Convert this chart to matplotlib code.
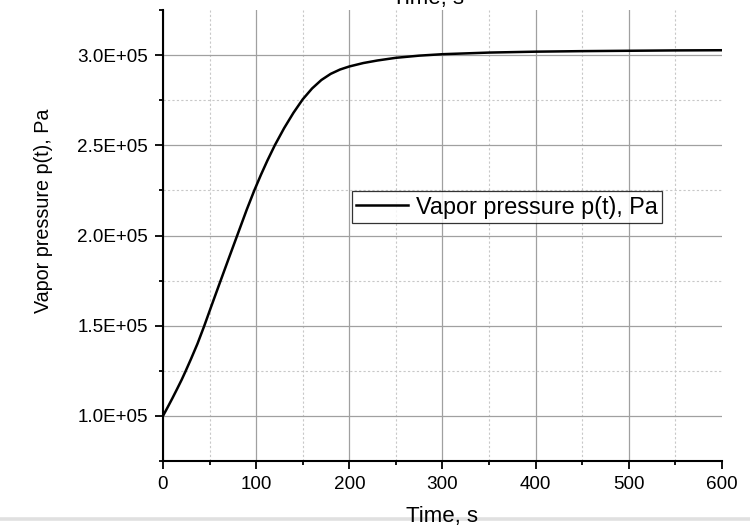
import matplotlib
matplotlib.use('Agg')
import matplotlib.pyplot as plt
from matplotlib.ticker import FixedLocator, FuncFormatter
from matplotlib.lines import Line2D

# Data
time_s = [0, 5, 10, 15, 20, 24, 30, 37, 44, 52, 61.5, 70, 80, 90, 98, 105,
          112, 120, 130, 140, 150, 160, 170, 180, 190, 200, 215, 230, 250,
          275, 300, 350, 400, 450, 500, 550, 600]
pressure_pa = [1.0e5, 1.048e5, 1.097e5, 1.148e5, 1.2e5, 1.245e5, 1.315e5,
               1.40e5, 1.495e5, 1.61e5, 1.745e5, 1.865e5, 2.005e5, 2.145e5,
               2.25e5, 2.335e5, 2.415e5, 2.5e5, 2.595e5, 2.68e5, 2.755e5,
               2.815e5, 2.862e5, 2.896e5, 2.92e5, 2.937e5, 2.956e5, 2.97e5,
               2.985e5, 2.997e5, 3.005e5, 3.014e5, 3.019e5, 3.022e5, 3.024e5,
               3.026e5, 3.027e5]
x_major = [0, 100, 200, 300, 400, 500, 600]
x_minor = [50, 150, 250, 350, 450, 550]
y_major = [1.0e5, 1.5e5, 2.0e5, 2.5e5, 3.0e5]
y_minor = [0.75e5, 1.25e5, 1.75e5, 2.25e5, 2.75e5, 3.25e5]

plt.rcParams['font.family'] = ['Liberation Sans', 'DejaVu Sans']

fig = plt.figure(figsize=(7.5, 5.28), dpi=100)
ax = fig.add_axes([163 / 750, 1 - 461 / 528, 559 / 750, 451 / 528])

ax.plot(time_s, pressure_pa, color='black', lw=1.8, label='Vapor pressure p(t), Pa',
        zorder=3, solid_joinstyle='round')

ax.set_xlim(0, 600)
ax.set_ylim(0.75e5, 3.25e5)
ax.xaxis.set_major_locator(FixedLocator(x_major))
ax.xaxis.set_minor_locator(FixedLocator(x_minor))
ax.yaxis.set_major_locator(FixedLocator(y_major))
ax.yaxis.set_minor_locator(FixedLocator(y_minor))
ax.yaxis.set_major_formatter(FuncFormatter(lambda v, p: '%.1fE+05' % (v / 1e5)))

ax.grid(which='major', color='#a0a0a0', lw=0.9, ls='-', zorder=0)
ax.grid(which='minor', color='#c8c8c8', lw=0.8, ls=(0, (2, 2)), zorder=0)
# no grid line on the last x tick and on the edge minor y ticks
ax.xaxis.get_major_ticks()[-1].gridline.set_visible(False)
ax.yaxis.get_minor_ticks()[0].gridline.set_visible(False)
ax.yaxis.get_minor_ticks()[-1].gridline.set_visible(False)

for s in ['top', 'right']:
    ax.spines[s].set_visible(False)
for s in ['left', 'bottom']:
    ax.spines[s].set_linewidth(1.5)

ax.tick_params(which='major', direction='out', length=6, width=1.3, labelsize=13.6, pad=5)
ax.tick_params(which='minor', direction='out', length=3, width=1.3)

ax.set_xlabel('Time, s', fontsize=16)
ax.xaxis.set_label_coords(0.5, -0.10)
ax.set_ylabel('Vapor pressure p(t), Pa', fontsize=14.2)
ax.yaxis.set_label_coords(-0.197, 0.554)

leg = ax.legend(loc='upper left', bbox_to_anchor=(0.3376, 0.5987), borderaxespad=0,
                fontsize=16.8, frameon=True, fancybox=False, handlelength=2.2,
                handletextpad=0.35, borderpad=0.2)
leg.get_frame().set_edgecolor('black')
leg.get_frame().set_linewidth(0.9)

# cut-off title at the top and divider band at the bottom
fig.text(428 / 750, 1 - 4 / 528, 'Time, s', fontsize=16, ha='center', va='baseline')
fig.add_artist(Line2D([0, 1], [1 - 519 / 528, 1 - 519 / 528], color='#e0e0e0', lw=2.6, zorder=0))

fig.savefig('out.png', dpi=100)
